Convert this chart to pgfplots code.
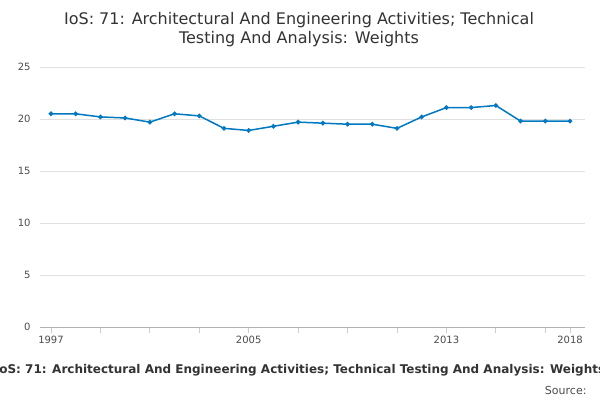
\documentclass[border=0pt]{standalone}
\usepackage{pgfplots}
\pgfplotsset{compat=1.18}
\usepackage{fontspec}
\setmainfont{DejaVu Sans}
\begin{document}
\begin{tikzpicture}
\clip (0pt,0pt) rectangle (600pt,-400pt);
\fill[white] (0pt,0pt) rectangle (600pt,-400pt);
\node[font=\fontsize{16}{19}\selectfont, text=black!80, align=center] at (299pt,-30pt) {IoS: 71: Architectural And Engineering Activities; Technical\\Testing And Analysis: Weights};
\begin{axis}[at={(40pt,-327pt)}, anchor=south west, scale only axis, width=545pt, height=260pt,
 xmin=1996.555, xmax=2018.607, ymin=0, ymax=25,
 axis line style={draw=none},
 ytick={0,5,...,25}, ymajorgrids, grid style={black!12},
 xtick={1997,1999,2001,2003,2005,2007,2009,2011,2013,2015,2017,2018},
 xticklabels={1997,,,,2005,,,,2013,,,2018},
 xtick pos=bottom, ytick pos=left,
 x tick style={draw=blue!20!black!20, line width=0.8pt}, major tick length=6pt,
 tick align=outside, y tick style={draw=none},
 ticklabel style={font=\fontsize{10}{12}\selectfont, text=black!70},
 /pgf/number format/assume math mode=true, /pgf/number format/1000 sep={},
 clip=false]
\draw[black!30] (axis cs:1996.555,0) -- (axis cs:2018.607,0);
\addplot[color={rgb,255:red,0;green,121;blue,193}, line width=1.5pt, mark=*, mark size=1.5pt] coordinates {
(1997,20.5)(1998,20.5)(1999,20.2)(2000,20.1)(2001,19.7)(2002,20.5)(2003,20.3)(2004,19.1)(2005,18.9)(2006,19.3)(2007,19.7)(2008,19.6)(2009,19.5)(2010,19.5)(2011,19.1)(2012,20.2)(2013,21.1)(2014,21.1)(2015,21.3)(2016,19.8)(2017,19.8)(2018,19.8)};
\end{axis}
\node[font=\bfseries\fontsize{12}{14}\selectfont, text=black!80] at (300pt,-370pt) {IoS: 71: Architectural And Engineering Activities; Technical Testing And Analysis: Weights};
\node[font=\fontsize{11}{13}\selectfont, text=black!70, anchor=east] at (590pt,-390pt) {Source:};
\end{tikzpicture}
\end{document}
